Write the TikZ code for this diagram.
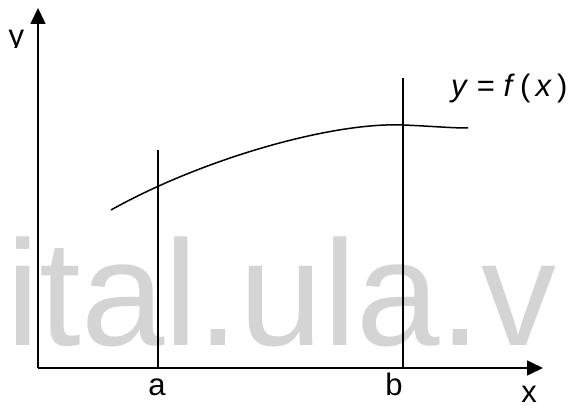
\documentclass[tikz,border=0pt]{standalone}
\usepackage{fontspec}
\setmainfont{Liberation Sans}
\usetikzlibrary{arrows.meta}
\tikzset{
	axis/.style={line width=1.6pt, -{Triangle[length=16pt, width=15pt]}},
	bound/.style={line width=1.5pt},
	curve/.style={line width=1.5pt},
	lbl/.style={inner sep=0pt, anchor=base, font=\fontsize{31}{31}\selectfont},
}
\begin{document}
\begin{tikzpicture}[x=1pt, y=-1pt]
	\useasboundingbox (0,0) rectangle (569,406);
	\node[inner sep=0pt, anchor=base west, text=black!17, font=\fontsize{150}{150}\selectfont] (wmark) at (6,345) {ital.ula.v};
	\coordinate (O) at (38,368);
	\coordinate (xend) at (543,368);
	\coordinate (yend) at (38,8);
	\coordinate (atop) at (158,150);
	\coordinate (abot) at (158,368);
	\coordinate (btop) at (403,78);
	\coordinate (bbot) at (403,368);
	\coordinate (cstart) at (111,210);
	\coordinate (cpeak) at (403,125);
	\coordinate (cend) at (468,128);
	\draw[bound] (abot) -- (atop);
	\draw[bound] (bbot) -- (btop);
	\draw[curve] (cstart) .. controls (200,160) and (330,122) .. (cpeak)
		.. controls (433,126.2) and (450,128) .. (cend);
	\draw[axis] (O) -- (xend);
	\draw[axis] (O) -- (yend);
	\node[lbl] (alab) at (157,395) {a};
	\node[lbl] (blab) at (394,395) {b};
	\node[lbl] (xlab) at (529,402) {x};
	\begin{scope}
		\clip (0,20) rectangle (36,48);
		\node[lbl] (ylab) at (16.5,47) {y};
	\end{scope}
	\node[inner sep=0pt, anchor=base west, font=\fontsize{31}{31}\selectfont] (flab) at (451,97) {\textit{y} = \textit{f}\,(\,\textit{x}\,)};
\end{tikzpicture}
\end{document}
